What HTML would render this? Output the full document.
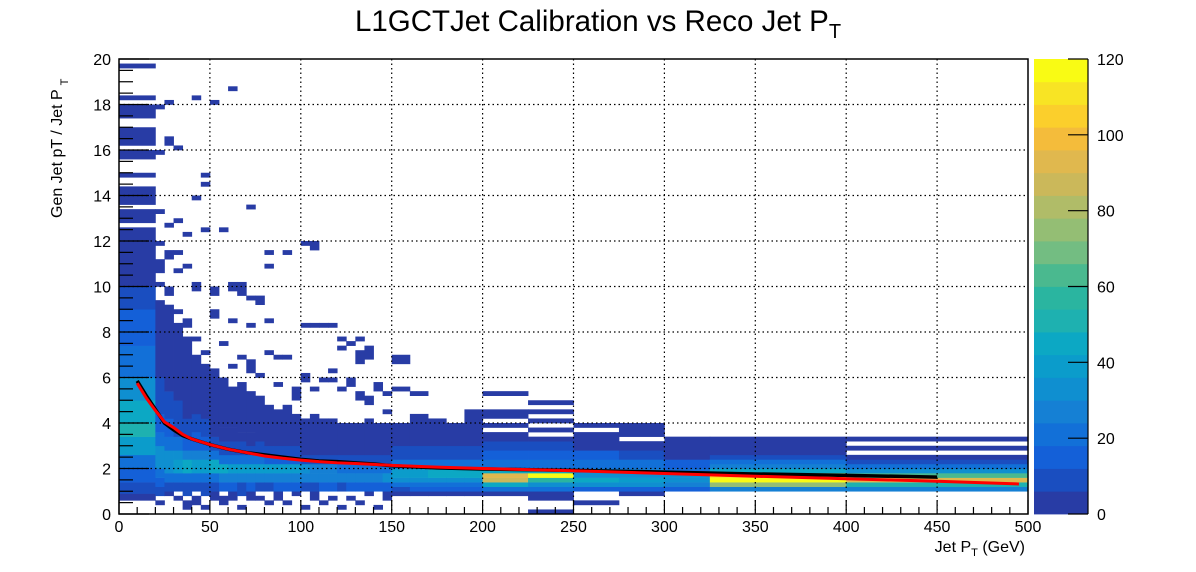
<!DOCTYPE html>
<html><head><meta charset="utf-8"><style>
html,body{margin:0;padding:0;background:#fff;}
svg{display:block;font-family:"Liberation Sans",Arial,sans-serif;}
</style></head><body>
<svg id="chart" width="1196" height="572" viewBox="0 0 1196 572" xmlns="http://www.w3.org/2000/svg">
<rect width="1196" height="572" fill="#fff"/>
<g id="cells"></g>
<g id="grid"></g>
<g id="fits"></g>
<g id="axes"></g>
<g id="cbar"></g>
<text x="598" y="31" font-size="29.5" text-anchor="middle" fill="#000">L1GCTJet Calibration vs Reco Jet P<tspan font-size="20" dy="7">T</tspan></text>
<text x="1025" y="552" font-size="16" text-anchor="end" fill="#000">Jet P<tspan font-size="11" dy="4">T</tspan><tspan dy="-4"> (GeV)</tspan></text>
<text transform="translate(62,218) rotate(-90)" font-size="16" text-anchor="start" fill="#000">Gen Jet pT / Jet P<tspan font-size="11" dy="6" dx="4">T</tspan></text>
</svg>
<script>
const xEdges=[0,20,25,30,35,40,45,50,55,60,65,70,75,80,85,90,95,100,105,110,115,120,125,130,135,140,145,150,160,170,180,190,200,225,250,275,300,325,400,500];
const colRuns=[
[[0.6,0.9,3],[0.9,1.4,9],[1.4,2,14],[2,2.6,22],[2.6,3.4,38],[3.4,4,52],[4,5,46],[5,6,33],[6,7.4,20],[7.4,9,14],[9,10,10],[10,12.6,3],[12.8,13.4,3],[13.6,14.4,3],[14.8,15,3],[15.6,16,3],[16.2,17,3],[17.4,18,3],[18.2,18.4,3],[19.6,19.8,3]],
[[0.4,0.6,3],[0.8,1.2,6],[1.2,1.6,12],[1.6,2.0,22],[2.0,2.4,32],[2.4,3.0,30],[3.0,3.6,22],[3.6,4.4,15],[4.4,6.0,8],[6.0,9.4,3],[10,10.2,3],[10.6,11.2,3],[11.8,12.0,3],[13.2,13.4,3],[15.8,16.0,3],[17.8,18.0,3]],
[[0.8,1.0,3],[1.0,1.4,10],[1.4,1.8,18],[1.8,2.2,34],[2.2,2.8,32],[2.8,3.4,22],[3.4,4.2,13],[4.2,5.4,7],[5.4,9.2,3],[9.6,10,3],[11.2,11.6,3],[12.6,12.8,3],[16.2,16.6,3],[18.0,18.2,3]],
[[0.6,0.8,3],[1.0,1.4,10],[1.4,1.8,22],[1.8,2.4,40],[2.4,2.8,30],[2.8,3.4,20],[3.4,4.2,11],[4.2,5.0,6],[5.0,8.4,3],[8.8,9.0,3],[10.6,10.8,3],[11.4,11.6,3],[12.8,13.0,3],[16.0,16.2,3]],
[[0.2,0.6,3],[0.8,1.4,8],[1.4,1.8,22],[1.8,2.4,42],[2.4,2.8,28],[2.8,3.4,17],[3.4,4.2,9],[4.2,7.8,3],[8.2,8.6,3],[10.8,11.0,3],[12.2,12.4,3]],
[[0.4,0.8,3],[1.0,1.4,10],[1.4,1.8,20],[1.8,2.4,38],[2.4,2.8,25],[2.8,3.6,14],[3.6,4.4,6],[4.4,7.0,3],[7.6,7.8,3],[9.8,10.2,3],[13.8,14.0,3],[18.2,18.4,3]],
[[0.2,0.4,3],[0.8,1.4,8],[1.4,1.8,20],[1.8,2.4,40],[2.4,2.8,25],[2.8,3.4,13],[3.4,4.2,6],[4.2,6.6,3],[7.0,7.2,3],[12.4,12.6,3],[14.4,14.6,3],[14.8,15.0,3]],
[[0.6,1.0,3],[1.0,1.4,10],[1.4,1.8,22],[1.8,2.4,42],[2.4,2.8,22],[2.8,3.4,11],[3.4,4.0,5],[4.0,6.4,3],[8.6,9.0,3],[9.6,10.0,3],[18.0,18.2,3]],
[[0.4,0.8,3],[1.0,1.4,12],[1.4,1.8,25],[1.8,2.2,45],[2.2,2.6,22],[2.6,3.2,11],[3.2,3.8,5],[3.8,6.0,3],[7.4,7.6,3],[12.4,12.6,3]],
[[0.6,1.0,3],[1.0,1.4,12],[1.4,1.8,28],[1.8,2.2,38],[2.2,2.6,20],[2.6,3.2,9],[3.2,3.8,5],[3.8,5.6,3],[6.4,6.6,3],[8.4,8.6,3],[9.8,10.2,3],[18.6,18.8,3]],
[[0.2,0.4,3],[0.8,1.4,10],[1.4,1.8,28],[1.8,2.2,40],[2.2,2.6,18],[2.6,3.2,9],[3.2,3.6,5],[3.6,5.8,3],[6.8,7.0,3],[9.6,10.2,3]],
[[0.6,1.0,3],[1.0,1.4,12],[1.4,1.8,26],[1.8,2.2,38],[2.2,2.6,20],[2.6,3.0,9],[3.0,3.6,5],[3.6,5.4,3],[6.2,6.8,3],[8.2,8.4,3],[9.4,9.6,3],[13.4,13.6,3]],
[[0.6,0.8,3],[1.0,1.4,10],[1.4,1.8,24],[1.8,2.2,36],[2.2,2.6,18],[2.6,3.2,8],[3.2,5.2,3],[6.0,6.2,3],[9.2,9.6,3]],
[[0.4,0.6,3],[1.0,1.4,10],[1.4,1.8,24],[1.8,2.2,36],[2.2,2.6,16],[2.6,3.0,7],[3.0,4.8,3],[7.0,7.2,3],[8.4,8.6,3],[10.8,11.0,3],[11.4,11.6,3]],
[[0.6,1.0,3],[1.0,1.4,12],[1.4,1.8,26],[1.8,2.2,38],[2.2,2.6,16],[2.6,3.0,7],[3.0,4.6,3],[5.6,5.8,3],[6.8,7.0,3]],
[[0.4,0.6,3],[1.0,1.4,12],[1.4,1.8,28],[1.8,2.2,36],[2.2,2.4,16],[2.4,3.0,6],[3.0,4.8,3],[6.8,7.0,3],[11.4,11.6,3]],
[[0.8,1.0,3],[1.0,1.4,12],[1.4,1.8,28],[1.8,2.2,36],[2.2,2.4,16],[2.4,3.0,6],[3.0,4.4,3],[5.0,5.6,3]],
[[0.2,0.4,3],[1.0,1.4,8],[1.4,1.8,28],[1.8,2.2,30],[2.2,2.6,10],[2.6,4.2,3],[5.8,6.2,3],[8.2,8.4,3],[11.8,12.0,3]],
[[0.6,1.0,3],[1.0,1.4,10],[1.4,1.8,26],[1.8,2.2,28],[2.2,2.6,10],[2.6,4.4,3],[5.4,5.6,3],[8.2,8.4,3],[11.6,12.0,3]],
[[0.4,0.6,3],[1.0,1.4,12],[1.4,1.8,28],[1.8,2.2,25],[2.2,2.6,8],[2.6,4.2,3],[5.8,6.0,3],[8.2,8.4,3]],
[[0.6,0.8,3],[1.0,1.4,12],[1.4,1.8,26],[1.8,2.2,25],[2.2,2.6,8],[2.6,4.2,3],[5.8,6.0,3],[6.2,6.4,3],[8.2,8.4,3]],
[[0.2,0.4,3],[1.0,1.4,10],[1.4,1.8,25],[1.8,2.2,22],[2.2,2.6,8],[2.6,4.0,3],[5.4,5.6,3],[7.2,7.4,3],[7.6,7.8,3]],
[[0.6,0.8,3],[1.0,1.4,12],[1.4,1.8,28],[1.8,2.2,22],[2.2,2.6,10],[2.6,4.0,3],[5.6,6.0,3],[7.4,7.6,3]],
[[0.4,0.6,3],[1.0,1.4,12],[1.4,1.8,25],[1.8,2.2,22],[2.2,2.6,8],[2.6,4.0,3],[5.0,5.4,3],[6.6,7.2,3],[7.6,7.8,3]],
[[0.8,1.0,3],[1.0,1.4,12],[1.4,1.8,25],[1.8,2.2,20],[2.2,2.6,8],[2.6,4.2,3],[4.8,5.2,3],[6.8,7.4,3]],
[[0.2,0.4,3],[1.0,1.4,12],[1.4,1.8,28],[1.8,2.2,22],[2.2,2.6,8],[2.6,4.0,3],[5.4,5.8,3]],
[[0.6,1.0,3],[1.0,1.4,14],[1.4,1.8,30],[1.8,2.2,22],[2.2,2.6,8],[2.6,4.0,3],[4.4,4.6,3],[5.2,5.4,3]],
[[0.8,1.0,3],[1.0,1.2,10],[1.2,1.4,18],[1.4,1.6,30],[1.6,2.0,40],[2.0,2.4,20],[2.4,3.0,10],[3.0,4.0,3],[5.4,5.6,3],[6.6,7.0,3]],
[[0.8,1.0,3],[1.0,1.2,12],[1.2,1.4,20],[1.4,1.6,32],[1.6,2.0,40],[2.0,2.4,18],[2.4,3.0,8],[3.0,4.4,3],[5.2,5.4,3]],
[[0.8,1.0,3],[1.0,1.2,12],[1.2,1.4,20],[1.4,1.6,30],[1.6,2.0,42],[2.0,2.4,20],[2.4,3.0,8],[3.0,4.2,3]],
[[0.8,1.0,3],[1.0,1.2,12],[1.2,1.4,22],[1.4,1.6,32],[1.6,2.0,42],[2.0,2.4,20],[2.4,3.0,8],[3.0,4.0,3]],
[[0.8,1.0,3],[1.0,1.2,12],[1.2,1.4,22],[1.4,1.6,32],[1.6,2.0,45],[2.0,2.4,22],[2.4,3.0,10],[3.0,4.6,3]],
[[0.8,1.0,3],[1.0,1.2,20],[1.2,1.4,45],[1.4,1.6,85],[1.6,1.8,95],[1.8,2.0,45],[2.0,2.4,22],[2.4,2.8,16],[2.8,3.2,10],[3.2,3.6,3],[3.8,4.0,3],[4.2,4.6,3],[5.2,5.4,3]],
[[0,0.2,3],[0.6,1.0,3],[1.0,1.2,20],[1.2,1.4,35],[1.4,1.6,55],[1.6,1.8,120],[1.8,2.0,45],[2.0,2.4,20],[2.4,2.8,14],[2.8,3.2,8],[3.2,3.4,3],[3.6,3.8,3],[4.0,4.2,3],[4.4,4.6,3],[4.8,5.0,3]],
[[0.4,0.6,3],[1.0,1.2,15],[1.2,1.4,30],[1.4,1.6,45],[1.6,1.8,35],[1.8,2.0,25],[2.0,2.4,20],[2.4,2.8,15],[2.8,3.2,4],[3.2,3.6,3],[3.8,4.0,3]],
[[0.8,1.0,3],[1.0,1.2,15],[1.2,1.4,30],[1.4,1.6,40],[1.6,1.8,35],[1.8,2.0,25],[2.0,2.4,18],[2.4,2.8,10],[2.8,3.2,3],[3.4,4.0,3]],
[[1.0,1.2,12],[1.2,1.4,25],[1.4,1.6,35],[1.6,1.8,30],[1.8,2.0,20],[2.0,2.4,15],[2.4,2.8,5],[2.8,3.4,3]],
[[1.0,1.2,25],[1.2,1.4,75],[1.4,1.6,120],[1.6,1.8,110],[1.8,2.0,45],[2.0,2.2,25],[2.2,2.4,18],[2.4,2.6,10],[2.6,3.4,3]],
[[1.0,1.2,25],[1.2,1.4,50],[1.4,1.6,90],[1.6,1.8,65],[1.8,2.0,30],[2.0,2.2,20],[2.2,2.4,8],[2.4,2.6,3],[2.8,3.0,3],[3.2,3.4,3]]
];
const palette=["#283ca5","#1a4ec0","#1460d8","#1270d8","#1580d4","#0f8fd0","#0b9ccb","#0ca8c4","#1eb1b0","#2ab5a0","#4ab98f","#73bd82","#94be74","#b0bc68","#cbb85a","#e0b84e","#f4bc3b","#fbcf2c","#f8e424","#f9fb14"];
const xTicks=[0,50,100,150,200,250,300,350,400,450,500];
const yTicks=[0,2,4,6,8,10,12,14,16,18,20];
const zTicks=[0,20,40,60,80,100,120];
const fitX=[10,15,20,25,30,35,40,50,60,70,80,90,100,110,120,130,140,150,175,200,250,300,350,400,450,495];
const redY=[5.75,5.1,4.55,4.05,3.8,3.5,3.3,3.05,2.85,2.7,2.55,2.45,2.37,2.3,2.25,2.22,2.18,2.14,2.06,2.0,1.9,1.78,1.66,1.55,1.44,1.32];
const blackX=[10,15,20,25,30,35,40,50,60,70,80,90,100,110,120,130,140,150,175,200,250,300,350,400,450];
const blackY=[5.85,5.2,4.6,4.0,3.7,3.45,3.3,3.05,2.85,2.7,2.6,2.5,2.4,2.33,2.3,2.25,2.2,2.12,2.03,1.98,1.92,1.84,1.76,1.7,1.62];

const NS="http://www.w3.org/2000/svg";
const L=119,R=1028,T=59,B=514;
const sx=v=>L+v*(R-L)/500, sy=v=>B-v*(B-T)/20;
const zy=v=>B-v*(B-T)/120;
function mk(tag,attrs,parent){const e=document.createElementNS(NS,tag);for(const k in attrs)e.setAttribute(k,attrs[k]);parent.appendChild(e);return e;}
const gc=document.getElementById('cells');
colRuns.forEach((runs,i)=>{
  runs.forEach(r=>{
    const x0=sx(xEdges[i]),x1=sx(xEdges[i+1]),y0=sy(r[1]),y1=sy(r[0]);
    const c=palette[Math.min(19,Math.floor(r[2]/6))];
    const e=mk('rect',{x:x0.toFixed(2),y:y0.toFixed(2),width:(x1-x0+0.4).toFixed(2),height:(y1-y0+0.3).toFixed(2),fill:c},gc);
    
    
  });
});
const gg=document.getElementById('grid');
xTicks.slice(1,-1).forEach(v=>{const e=mk('line',{x1:sx(v),x2:sx(v),y1:T,y2:B,stroke:'#000','stroke-width':1.2,'stroke-dasharray':'1.5 3'},gg);

});
yTicks.slice(1,-1).forEach(v=>{const e=mk('line',{x1:L,x2:R,y1:sy(v),y2:sy(v),stroke:'#000','stroke-width':1.2,'stroke-dasharray':'1.5 3'},gg);

});
const gf=document.getElementById('fits');
const bp=mk('polyline',{points:blackX.map((x,i)=>sx(x)+','+sy(blackY[i])).join(' '),fill:'none',stroke:'#000','stroke-width':3.5},gf);


const rp=mk('polyline',{points:fitX.map((x,i)=>sx(x)+','+sy(redY[i])).join(' '),fill:'none',stroke:'#ff0000','stroke-width':3},gf);


const ga=document.getElementById('axes');
const fr=mk('rect',{x:L,y:T,width:R-L,height:B-T,fill:'none',stroke:'#000','stroke-width':1.5},ga);


for(let v=0;v<=500;v+=10){const maj=v%50===0;mk('line',{x1:sx(v),x2:sx(v),y1:B,y2:B-(maj?14:7),stroke:'#000','stroke-width':1.2},ga);}
for(let v=0;v<=20.001;v+=0.5){const maj=Math.abs(v%2)<1e-6;mk('line',{x1:L,x2:L+(maj?30:14),y1:sy(v),y2:sy(v),stroke:'#000','stroke-width':1.2},ga);}
xTicks.forEach(v=>{const t=mk('text',{x:sx(v),y:532,'font-size':16,'text-anchor':'middle',fill:'#000'},ga);t.textContent=v;

});
yTicks.forEach(v=>{const t=mk('text',{x:111,y:sy(v)+6,'font-size':16,'text-anchor':'end',fill:'#000'},ga);t.textContent=v;

});
const gb=document.getElementById('cbar');
const CL=1034,CR=1088;
palette.forEach((c,i)=>{const e=mk('rect',{x:CL,y:zy((i+1)*6),width:CR-CL,height:zy(i*6)-zy((i+1)*6)+0.4,fill:c},gb);

});
mk('line',{x1:CR,x2:CR,y1:T,y2:B,stroke:'#000','stroke-width':1.2},gb);
zTicks.forEach(v=>{mk('line',{x1:CR-20,x2:CR,y1:zy(v),y2:zy(v),stroke:'#000','stroke-width':1.2},gb);
const t=mk('text',{x:1097,y:zy(v)+6,'font-size':16,fill:'#000'},gb);t.textContent=v;

});
</script>
</body></html>
